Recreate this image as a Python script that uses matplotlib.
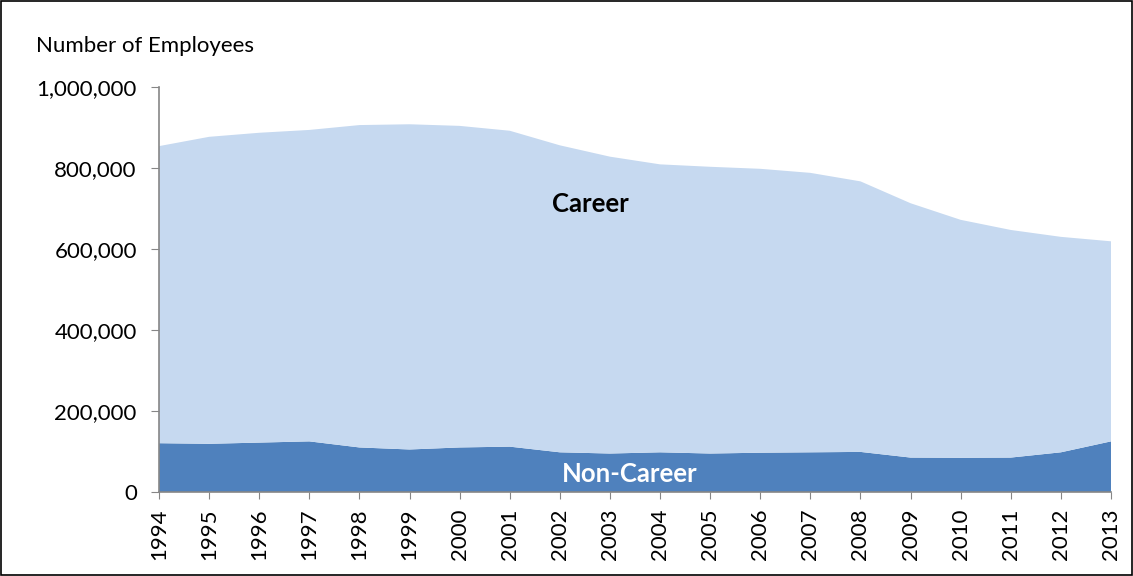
import matplotlib
matplotlib.use("Agg")
import matplotlib.pyplot as plt
from matplotlib.ticker import FuncFormatter
import numpy as np

years = list(range(1994, 2014))
total = [854000, 877000, 887000, 894000, 906000, 908000, 904000, 892000, 856000, 828000,
         809000, 803000, 798000, 788000, 767000, 713000, 672000, 647000, 630000, 619000]
non_career = [120500, 119000, 122000, 125000, 110000, 105000, 110000, 112000, 98000, 95000,
              98000, 95000, 97000, 98000, 99000, 85000, 84500, 85000, 98000, 125000]
career = [t - n for t, n in zip(total, non_career)]

plt.rcParams['font.family'] = ['Lato', 'DejaVu Sans']

fig = plt.figure(figsize=(11.33, 5.76), dpi=100)
ax = fig.add_axes([159/1133, 1 - 492/576, (1111-159)/1133, (492-87)/576])

ax.stackplot(years, non_career, career, colors=['#4f81bd', '#c6d9f0'], linewidth=0)

ax.set_xlim(1994, 2013)
ax.set_ylim(0, 1000000)
ax.set_xticks(years)
ax.set_xticklabels([str(y) for y in years], rotation=90, fontsize=16)
ax.set_yticks(np.arange(0, 1000001, 200000))
ax.yaxis.set_major_formatter(FuncFormatter(lambda v, p: f"{int(v):,}"))
ax.tick_params(axis='y', labelsize=16, length=6, color='#868686', direction='out', pad=10)
ax.tick_params(axis='x', length=5, color='#868686', direction='out', pad=7)
for s in ['top', 'right']:
    ax.spines[s].set_visible(False)
for s in ['left', 'bottom']:
    ax.spines[s].set_color('#868686')
    ax.spines[s].set_linewidth(1.2)

ax.text(2002.6, 711000, 'Career', fontsize=18.5, fontweight='bold', ha='center', va='center', color='black')
ax.text(2003.4, 45000, 'Non-Career', fontsize=18.5, fontweight='bold', ha='center', va='center', color='white')

fig.text(36/1133, 1 - 46/576, 'Number of Employees', fontsize=16, ha='left', va='center')

fig.patches.append(plt.Rectangle((0.001, 0.001), 0.998, 0.997, transform=fig.transFigure,
                                 fill=False, edgecolor='black', linewidth=1.2))

fig.savefig('out.png', dpi=100)
